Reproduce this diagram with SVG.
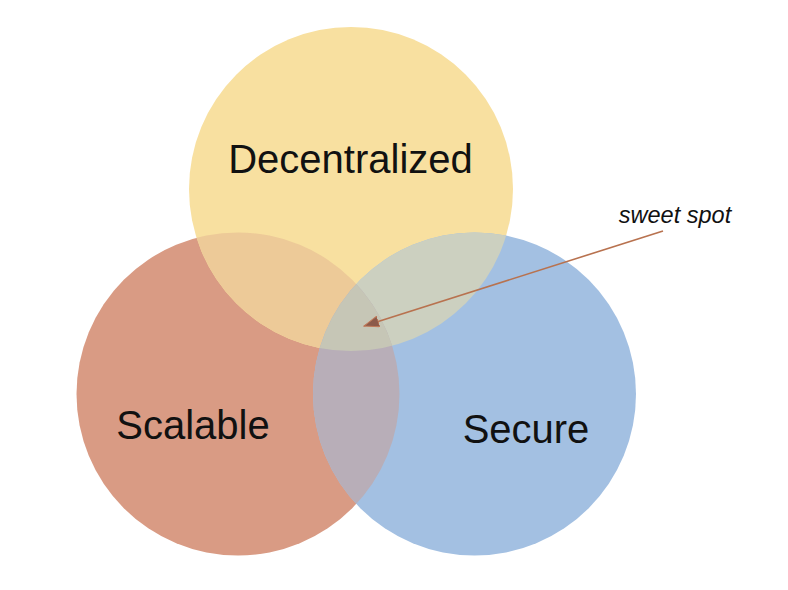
<svg xmlns="http://www.w3.org/2000/svg" width="788" height="590" viewBox="0 0 788 590">
  <style>
    .lbl { font-family: "Liberation Sans", Arial, sans-serif; font-size: 40px; fill: #111; text-anchor: middle; }
    .note { font-family: "Liberation Sans", Arial, sans-serif; font-size: 23.5px; font-style: italic; fill: #111; text-anchor: middle; }
    .conn { stroke: #B8724F; stroke-width: 1.6; fill: none; }
  </style>
  <defs>
    <clipPath id="cY"><circle cx="351" cy="189" r="162"/></clipPath>
    <clipPath id="cR"><circle cx="238" cy="394" r="161.5"/></clipPath>
    <clipPath id="cB"><circle cx="474.5" cy="394" r="161.5"/></clipPath>
    <marker id="ah" viewBox="0 0 16 12" refX="15" refY="6" markerWidth="16" markerHeight="12" markerUnits="userSpaceOnUse" orient="auto">
      <path d="M0,0.5 L15,6 L0,11.5 Z" fill="#8C5A4A" stroke="#C07858" stroke-width="1"/>
    </marker>
  </defs>
  <rect width="788" height="590" fill="#ffffff"/>

  <g id="scalable">
    <circle cx="238" cy="394" r="161.5" fill="#D99B84"/>
  </g>
  <g id="decentralized">
    <circle cx="351" cy="189" r="162" fill="#F8E0A0"/>
  </g>
  <g id="secure">
    <circle cx="474.5" cy="394" r="161.5" fill="#A3C0E2"/>
  </g>

  <g id="overlaps">
    <circle cx="238" cy="394" r="161.5" fill="#EDCA98" clip-path="url(#cY)"/>
    <circle cx="351" cy="189" r="162" fill="#CCD0C0" clip-path="url(#cB)"/>
    <circle cx="238" cy="394" r="161.5" fill="#B8AEB8" clip-path="url(#cB)"/>
    <g id="sweet-spot-region" clip-path="url(#cB)">
      <circle cx="238" cy="394" r="161.5" fill="#C6C6B6" clip-path="url(#cY)"/>
    </g>
  </g>

  <g id="labels">
    <text class="lbl" x="350.5" y="173">Decentralized</text>
    <text class="lbl" x="193" y="439">Scalable</text>
    <text class="lbl" x="526" y="443">Secure</text>
  </g>

  <g id="connectors">
    <line class="conn" x1="663" y1="231" x2="364" y2="326" marker-end="url(#ah)"/>
  </g>
  <g id="note">
    <text class="note" x="675" y="223">sweet spot</text>
  </g>
</svg>
